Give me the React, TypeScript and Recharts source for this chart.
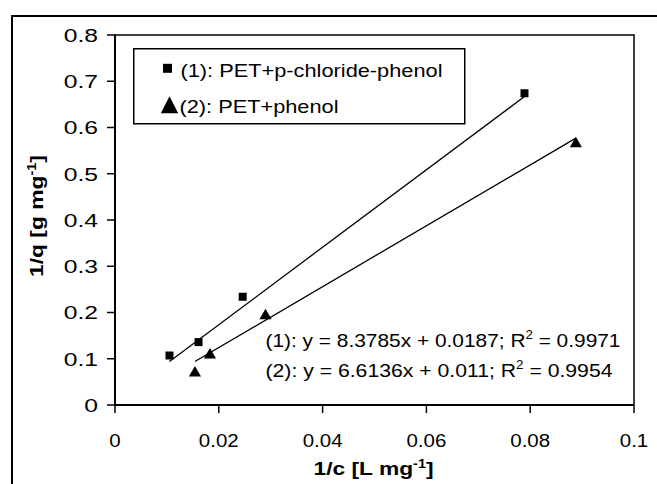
import React from "react";
import {
  ScatterChart,
  Scatter,
  XAxis,
  YAxis,
  ZAxis,
  ReferenceArea,
  Legend,
} from "recharts";

// measured points, series (1) PET + p-chloride-phenol
const series1X = [0.0105, 0.0161, 0.0246, 0.0789];
const series1Y = [0.107, 0.136, 0.234, 0.674];
// series (2) PET + phenol
const series2X = [0.0154, 0.0183, 0.029, 0.0888];
const series2Y = [0.069, 0.108, 0.193, 0.565];

// trend line end points as drawn
const trend1X = [0.0105, 0.0789];
const trend1Y = [0.094, 0.667];
const trend2X = [0.0154, 0.0888];
const trend2Y = [0.094, 0.577];

const xTicks = [0, 0.02, 0.04, 0.06, 0.08, 0.1];
const yTicks = [0, 0.1, 0.2, 0.3, 0.4, 0.5, 0.6, 0.7, 0.8];

const legendLabels = ["(1): PET+p-chloride-phenol", "(2): PET+phenol"];
const equations = [
  { lead: "(1): y = 8.3785x + 0.0187; R", tail: " = 0.9971" },
  { lead: "(2): y = 6.6136x + 0.011; R", tail: " = 0.9954" },
];

const FONT = "'Liberation Sans', Arial, sans-serif";

const zip = (xs: number[], ys: number[]) => xs.map((x, i) => ({ x, y: ys[i] }));

const pts1 = zip(series1X, series1Y);
const pts2 = zip(series2X, series2Y);
const fit1 = zip(trend1X, trend1Y);
const fit2 = zip(trend2X, trend2Y);

const fmt = (v: number) => (v === 0 ? "0" : String(v));

const YTick = (props: any) => {
  const { x, y, payload } = props;
  return (
    <text
      transform={`translate(${x - 7},${y + 6.8}) scale(1.3,1)`}
      textAnchor="end"
      fontSize={19}
      fontFamily={FONT}
      fill="#000"
    >
      {fmt(payload.value)}
    </text>
  );
};

const XTick = (props: any) => {
  const { x, y, payload } = props;
  return (
    <text
      transform={`translate(${x},${y + 32}) scale(1.08,1)`}
      textAnchor="middle"
      fontSize={19}
      fontFamily={FONT}
      fill="#000"
    >
      {fmt(payload.value)}
    </text>
  );
};

const XTitle = (props: any) => {
  const vb = props.viewBox;
  const cx = vb.x + vb.width / 2 - 1;
  return (
    <text
      x={cx}
      y={475}
      textAnchor="middle"
      fontSize={19}
      fontWeight="bold"
      fontFamily={FONT}
      fill="#000"
      textLength={120}
      lengthAdjust="spacingAndGlyphs"
    >
      1/c [L mg
      <tspan fontSize={12} dy={-7}>-1</tspan>
      <tspan dy={7}>]</tspan>
    </text>
  );
};

const YTitle = () => (
  <text
    transform="translate(42.7,216) rotate(-90)"
    textAnchor="middle"
    fontSize={19}
    fontWeight="bold"
    fontFamily={FONT}
    fill="#000"
    textLength={122}
    lengthAdjust="spacingAndGlyphs"
  >
    1/q [g mg
    <tspan fontSize={12} dy={-7}>-1</tspan>
    <tspan dy={7}>]</tspan>
  </text>
);

const LegendBox = () => (
  <svg width={333} height={77} style={{ display: "block" }}>
    <rect x={0.75} y={0.75} width={331} height={75} fill="#fff" stroke="#000" strokeWidth={1.5} />
    <rect x={30} y={15.8} width={9} height={9} fill="#000" />
    <text
      x={47.5}
      y={28.7}
      fontSize={19}
      fontFamily={FONT}
      fill="#000"
      textLength={262}
      lengthAdjust="spacingAndGlyphs"
    >
      {legendLabels[0]}
    </text>
    <polygon points="36.5,48.3 27.8,65.3 45.2,65.3" fill="#000" />
    <text
      x={46.5}
      y={65.3}
      fontSize={19}
      fontFamily={FONT}
      fill="#000"
      textLength={159}
      lengthAdjust="spacingAndGlyphs"
    >
      {legendLabels[1]}
    </text>
  </svg>
);

const noDot = () => <g />;

export default function App() {
  return (
    <div
      style={{
        position: "absolute",
        left: 0,
        top: 0,
        width: 657,
        height: 484,
        overflow: "hidden",
        background: "#fff",
        fontFamily: FONT,
      }}
    >
      <div
        style={{
          position: "absolute",
          left: 11,
          top: 15,
          width: 700,
          height: 520,
          borderLeft: "2px solid #000",
          borderTop: "2px solid #000",
        }}
      />
      <ScatterChart
        width={657}
        height={484}
        margin={{ top: 35, right: 23, bottom: 0, left: 0 }}
        style={{ position: "absolute", left: 0, top: 0 }}
      >
        <XAxis
          type="number"
          dataKey="x"
          domain={[0, 0.1]}
          ticks={xTicks}
          interval={0}
          height={79}
          tickSize={8}
          axisLine={{ stroke: "#000", strokeWidth: 2 }}
          tickLine={{ stroke: "#000", strokeWidth: 1.5 }}
          tick={<XTick />}
          label={<XTitle />}
          allowDataOverflow
        />
        <YAxis
          type="number"
          dataKey="y"
          domain={[0, 0.8]}
          ticks={yTicks}
          interval={0}
          width={115}
          tickSize={8}
          axisLine={{ stroke: "#000", strokeWidth: 2 }}
          tickLine={{ stroke: "#000", strokeWidth: 1.5 }}
          tick={<YTick />}
          label={<YTitle />}
          allowDataOverflow
        />
        <ZAxis zAxisId="sq" range={[90, 90]} />
        <ZAxis zAxisId="tri" range={[130, 130]} />
        <ReferenceArea x1={0} x2={0.1} y1={0} y2={0.8} fill="none" stroke="#000" strokeWidth={1.5} />
        <Legend
          content={<LegendBox />}
          layout="vertical"
          align="center"
          verticalAlign="middle"
          wrapperStyle={{ left: 133, top: 48, width: 333, height: 77 }}
        />
        <Scatter
          data={fit1}
          zAxisId="sq"
          line={{ stroke: "#000", strokeWidth: 1.3 }}
          shape={noDot}
          legendType="none"
          isAnimationActive={false}
        />
        <Scatter
          data={fit2}
          zAxisId="sq"
          line={{ stroke: "#000", strokeWidth: 1.3 }}
          shape={noDot}
          legendType="none"
          isAnimationActive={false}
        />
        <Scatter data={pts1} zAxisId="sq" shape="square" fill="#000" isAnimationActive={false} />
        <Scatter data={pts2} zAxisId="tri" shape="triangle" fill="#000" isAnimationActive={false} />
      </ScatterChart>
      <svg
        width={657}
        height={484}
        style={{ position: "absolute", left: 0, top: 0, pointerEvents: "none" }}
      >
        {equations.map((eq, i) => (
          <text
            key={i}
            x={265.5}
            y={347.3 + i * 29.4}
            fontSize={19}
            fontFamily={FONT}
            fill="#000"
            textLength={i === 0 ? 355 : 347}
            lengthAdjust="spacingAndGlyphs"
          >
            {eq.lead}
            <tspan fontSize={12} dy={-8}>2</tspan>
            <tspan dy={8}>{eq.tail}</tspan>
          </text>
        ))}
      </svg>
    </div>
  );
}
